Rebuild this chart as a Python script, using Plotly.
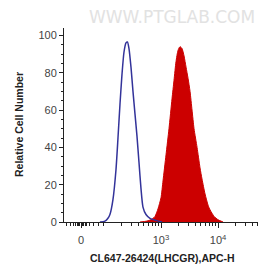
import numpy as np
import plotly.graph_objects as go

# display-channel positions (10^3 -> 3, 10^4 -> 4, biexponential "0" near 1.6)
blue_x = [1.930, 2.018, 2.070, 2.105, 2.158, 2.211, 2.246, 2.281, 2.316, 2.351, 2.386,
          2.412, 2.439, 2.474, 2.509, 2.544, 2.579, 2.614, 2.649, 2.684, 2.737, 2.807,
          2.895, 3.018]
blue_y = [0, 0.5, 2, 4, 12, 28, 45, 63, 79, 91, 96, 96.5, 93, 83, 70, 58, 46, 32, 18, 8,
          4, 2, 1, 0]

red_x = [2.632, 2.754, 2.842, 2.895, 2.947, 3.000, 3.035, 3.088, 3.140, 3.193, 3.228,
         3.263, 3.298, 3.333, 3.368, 3.404, 3.439, 3.474, 3.509, 3.544, 3.579, 3.632,
         3.684, 3.719, 3.772, 3.825, 3.860, 3.930, 4.000, 4.088]
red_y = [0, 0.5, 1.5, 3, 7, 13, 22, 36, 50, 66, 76, 86, 92, 94, 93, 89, 83, 77, 70, 60,
         50, 40, 29, 23, 15, 9, 6.5, 3, 1.2, 0]

x_tickvals = [1.6, 3, 4]
x_ticktext = ["0", "10<sup>3</sup>", "10<sup>4</sup>"]
y_tickvals = [0, 20, 40, 60, 80, 100]

x_minor = [1.35, 1.42, 1.47, 1.5, 1.53, 1.56, 1.58, 1.6, 1.62, 1.64, 1.67, 1.7, 1.75, 1.82, 1.9]
x_minor += [2 + np.log10(k) for k in range(1, 10)]
x_minor += [3 + np.log10(k) for k in range(2, 10)]
x_minor += [4 + np.log10(k) for k in range(2, 6)]

W, H = 260, 266
L, R, T, B = 64, 2, 28, 44

fig = go.Figure()
fig.add_trace(go.Scatter(x=red_x, y=red_y, mode="lines", fill="tozeroy",
                         line=dict(color="#cc0000", width=1, shape="spline", smoothing=0.6),
                         fillcolor="#cc0000", hoverinfo="skip"))
fig.add_trace(go.Scatter(x=blue_x, y=blue_y, mode="lines",
                         line=dict(color="#33339a", width=1.5, shape="spline", smoothing=0.6),
                         hoverinfo="skip"))

fig.update_layout(
    width=W, height=H,
    margin=dict(l=L, r=R, t=T, b=B, autoexpand=False),
    paper_bgcolor="white", plot_bgcolor="white",
    showlegend=False,
    font=dict(family="Liberation Sans, Arial", size=11, color="#333333"),
    xaxis=dict(range=[1.30, 4.70], tickvals=x_tickvals, ticktext=x_ticktext,
               automargin=False, ticklabelstandoff=3,
               showgrid=False, zeroline=False, showline=True, linecolor="#222222",
               linewidth=1, ticks="outside", ticklen=5, tickcolor="#222222",
               tickfont=dict(size=11, color="#444444"),
               minor=dict(tickvals=x_minor, ticks="outside", ticklen=3,
                          tickcolor="#222222", showgrid=False)),
    yaxis=dict(range=[0, 104], tickvals=y_tickvals, automargin=False,
               showgrid=False, zeroline=False, showline=True, linecolor="#222222",
               linewidth=1, ticks="outside", ticklen=4, tickcolor="#222222",
               tickfont=dict(size=11, color="#444444"),
               minor=dict(dtick=5, ticks="outside", ticklen=2, tickcolor="#222222",
                          showgrid=False)),
)

def px_x(p):
    return (p - L) / (W - L - R)

def px_y(p):
    return (H - B - p) / (H - T - B)

fig.add_annotation(text="<b>CL647-26424(LHCGR),APC-H</b>", xref="paper", yref="paper",
                   x=px_x(162), y=px_y(258), xanchor="center", yanchor="middle",
                   showarrow=False, font=dict(size=10.5, color="#222222"))
fig.add_annotation(text="<b>Relative Cell Number</b>", xref="paper", yref="paper",
                   x=px_x(19), y=px_y(125), xanchor="center", yanchor="middle",
                   textangle=-90, showarrow=False, font=dict(size=10.5, color="#222222"))
fig.add_annotation(text="WWW.PTGLAB.COM", xref="paper", yref="paper",
                   x=px_x(172), y=px_y(17), xanchor="center", yanchor="middle",
                   showarrow=False,
                   font=dict(family="DejaVu Sans", size=17, color="#e2e2e2"))

fig.write_html("out.html", config={"displayModeBar": False},
               post_script="document.body.style.margin='0';")
